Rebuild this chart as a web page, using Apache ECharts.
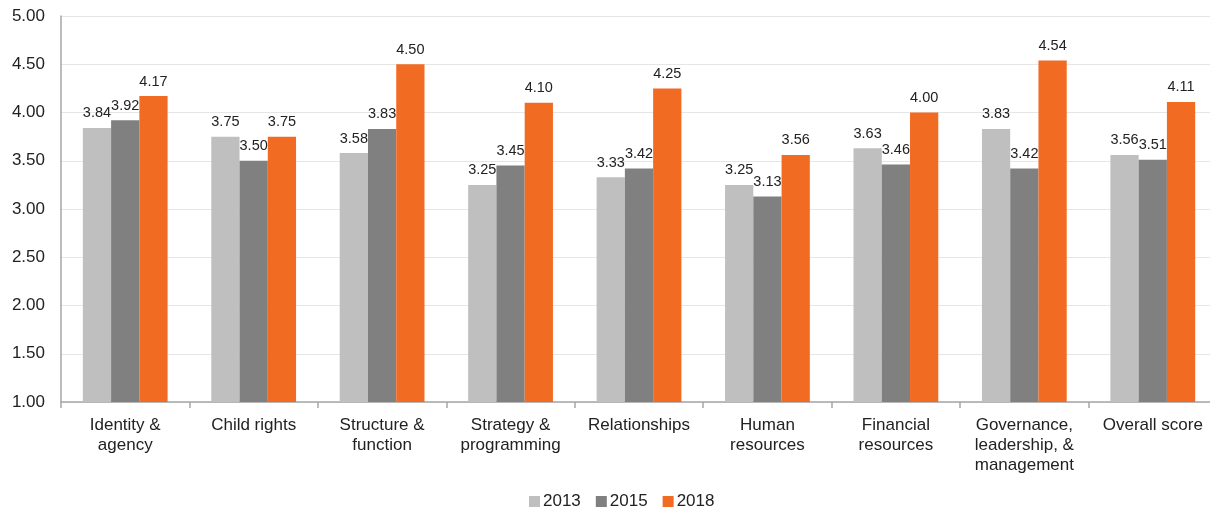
<!DOCTYPE html>
<html><head><meta charset="utf-8">
<script src="https://cdn.jsdelivr.net/npm/echarts@6/dist/echarts.min.js"></script>
<style>html,body{margin:0;padding:0;background:#fff;overflow:hidden}#c{width:1217px;height:510px}</style>
</head><body><div id="c"></div>
<script>
const categories = ["Identity &\nagency","Child rights","Structure &\nfunction","Strategy &\nprogramming","Relationships","Human\nresources","Financial\nresources","Governance,\nleadership, &\nmanagement","Overall score"];
const s2013 = [3.84,3.75,3.58,3.25,3.33,3.25,3.63,3.83,3.56];
const s2015 = [3.92,3.50,3.83,3.45,3.42,3.13,3.46,3.42,3.51];
const s2018 = [4.17,3.75,4.50,4.10,4.25,3.56,4.00,4.54,4.11];
const seriesNames = ["2013","2015","2018"];
const colors = ["#bfbfbf","#808080","#f26b23"];
const font = "Liberation Sans, Arial, sans-serif";
const chart = echarts.init(document.getElementById('c'));
const lbl = {show:true, position:'top', distance:7, fontSize:14.5, color:'#222', fontFamily:font, formatter:p=>p.value.toFixed(2)};
chart.setOption({
  animation:false,
  textStyle:{fontFamily:font},
  grid:{left:61, right:0, top:16, bottom:108, containLabel:false},
  legend:{top:488, left:524, itemWidth:11, itemHeight:11, itemGap:15, icon:'rect',
    textStyle:{fontSize:17, color:'#222', fontFamily:font, padding:[0,0,0,-2]}, data:seriesNames},
  xAxis:{type:'category', data:categories,
    axisLine:{lineStyle:{color:'#a6a6a6', width:1.5}},
    axisTick:{show:true, alignWithLabel:false, length:6, lineStyle:{color:'#a6a6a6', width:1.5}},
    axisLabel:{fontSize:17, color:'#222', lineHeight:20, margin:13, fontFamily:font, interval:0}},
  yAxis:{type:'value', min:1, max:5, interval:0.5,
    axisLine:{show:true, lineStyle:{color:'#a6a6a6', width:1.5}},
    axisTick:{show:false},
    splitLine:{lineStyle:{color:'#e6e6e6', width:1}},
    axisLabel:{fontSize:17, color:'#222', margin:16, fontFamily:font, formatter:v=>v.toFixed(2)}},
  series:[
    {name:seriesNames[0], type:'bar', data:s2013, itemStyle:{color:colors[0]}, barGap:'0%', barCategoryGap:'34%', label:lbl},
    {name:seriesNames[1], type:'bar', data:s2015, itemStyle:{color:colors[1]}, barGap:'0%', barCategoryGap:'34%', label:lbl},
    {name:seriesNames[2], type:'bar', data:s2018, itemStyle:{color:colors[2]}, barGap:'0%', barCategoryGap:'34%', label:lbl}
  ]
});
</script></body></html>
